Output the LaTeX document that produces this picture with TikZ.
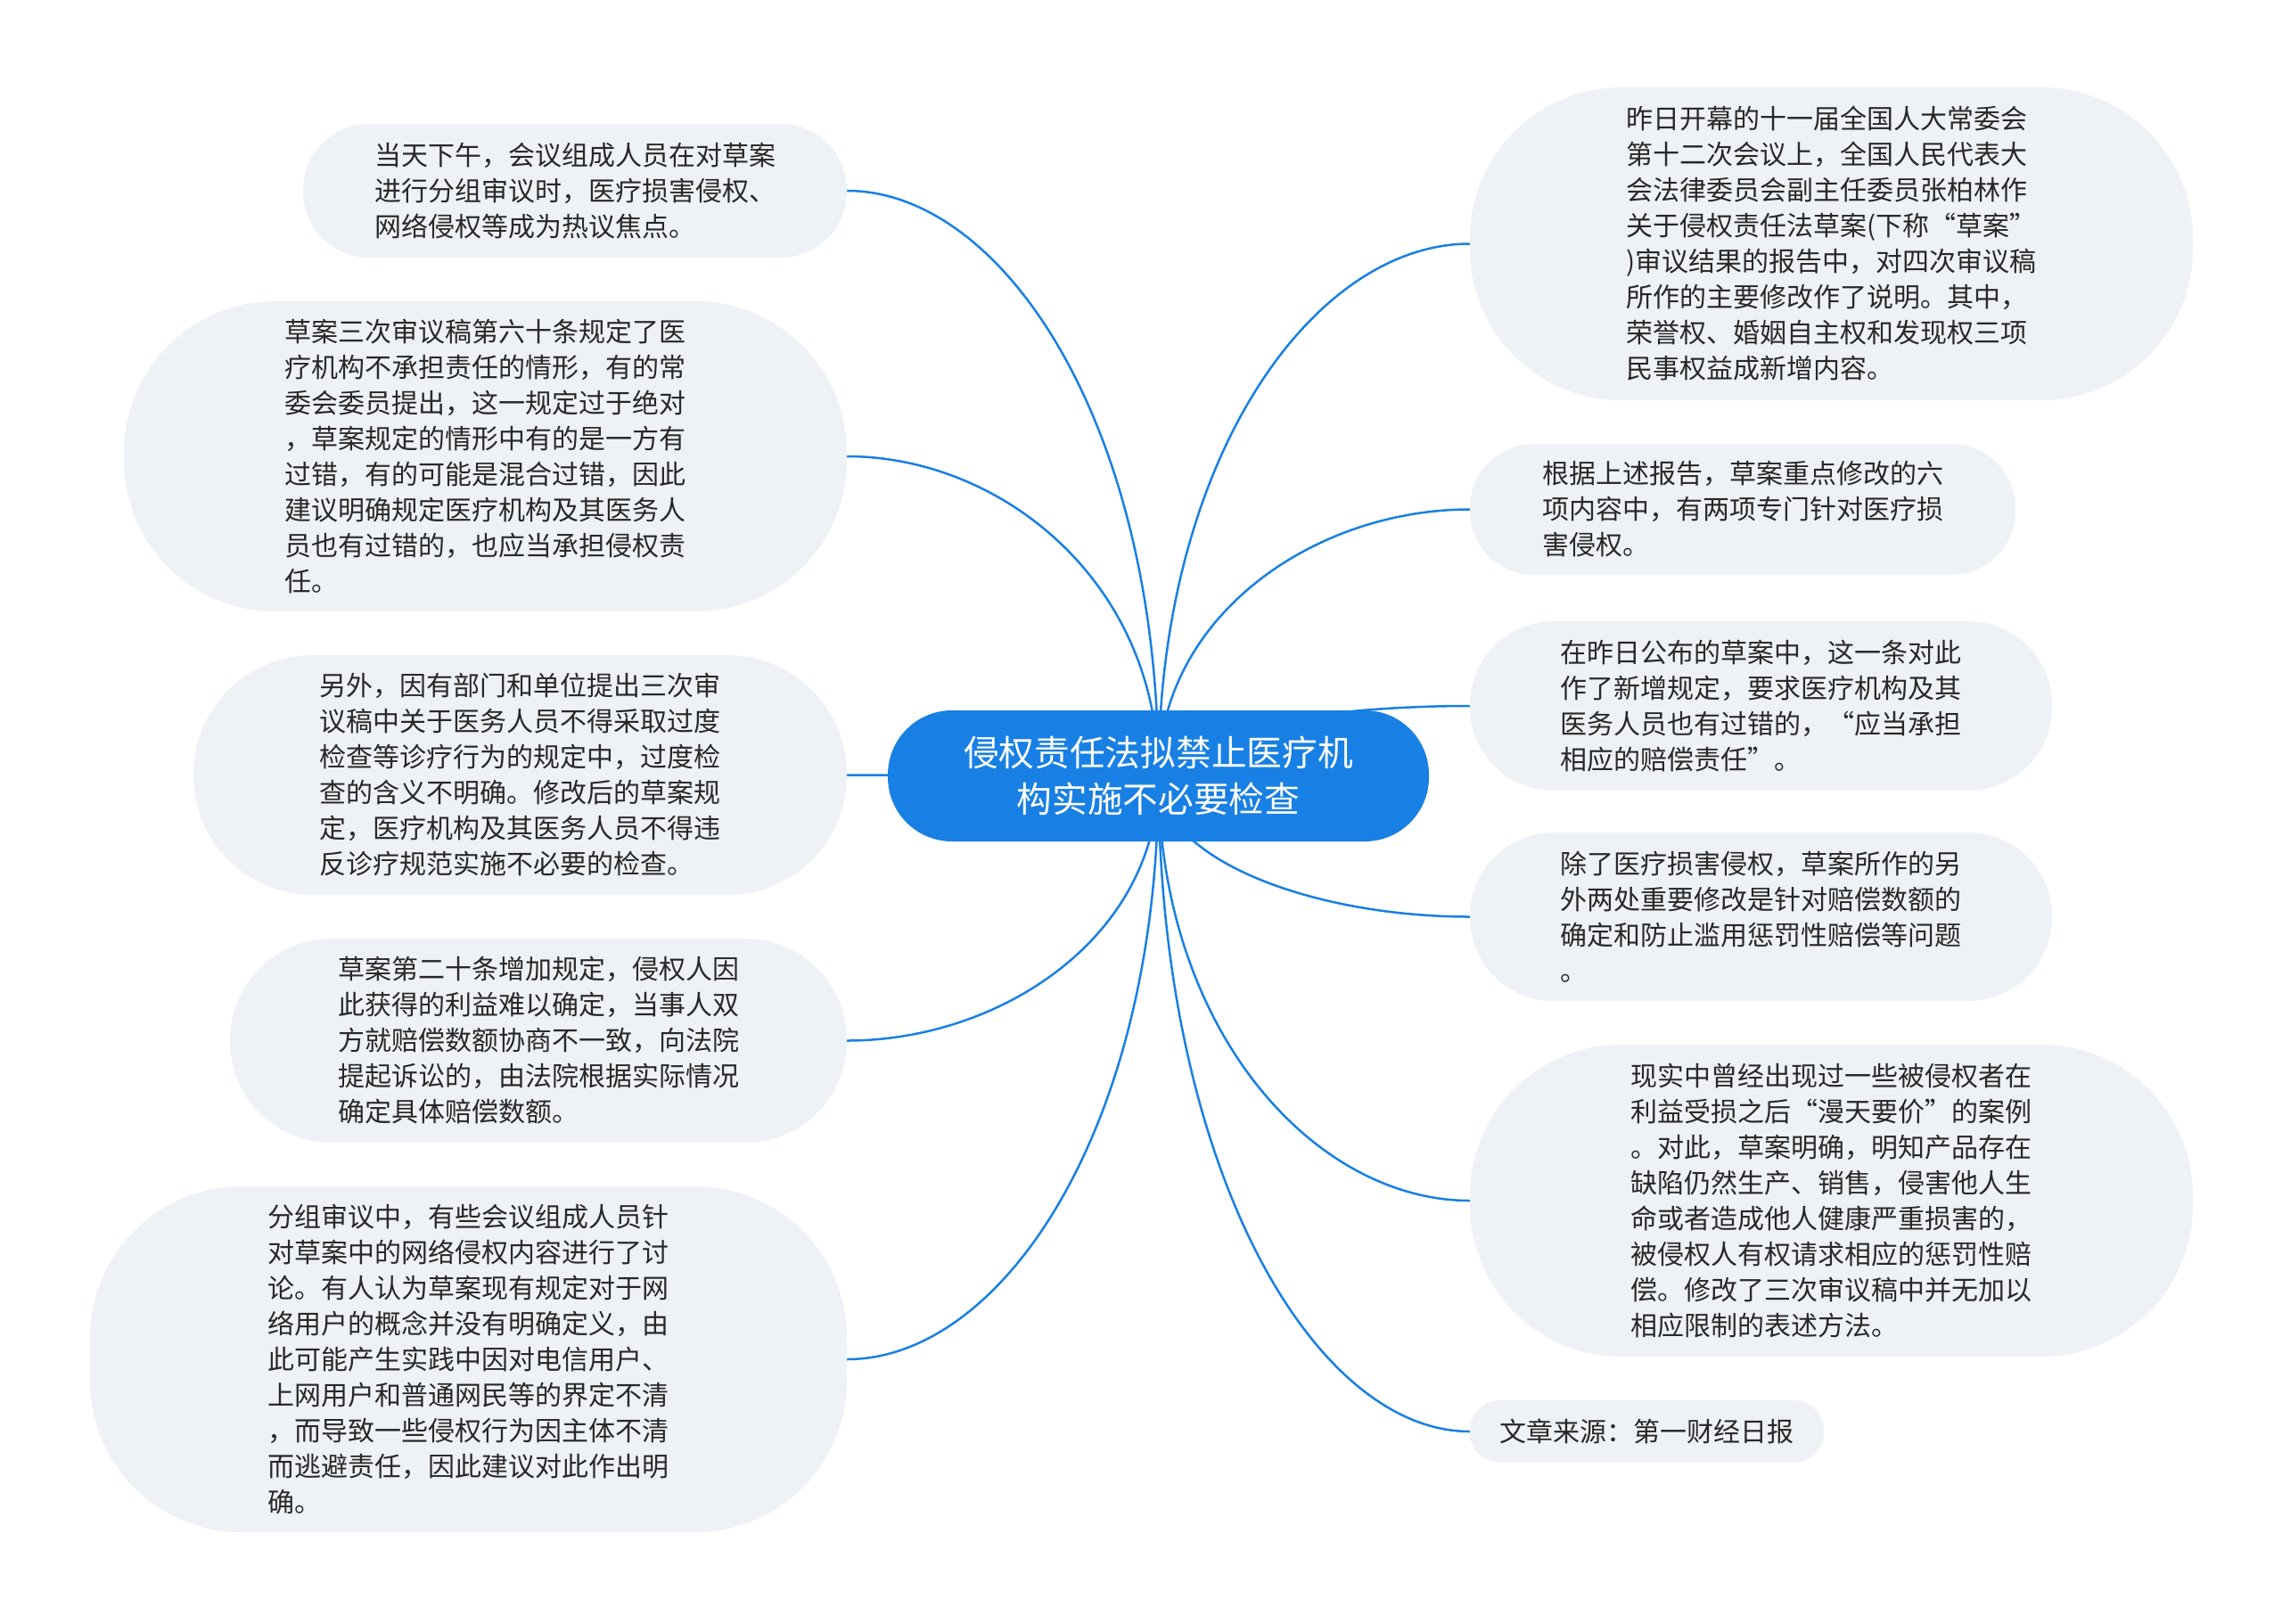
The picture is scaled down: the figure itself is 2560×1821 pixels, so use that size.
\documentclass[tikz,border=0pt]{standalone}
\usepackage{fontspec}
\setmainfont{Noto Sans CJK SC}
\usetikzlibrary{backgrounds}
\definecolor{mainblue}{RGB}{24,128,228}
\definecolor{leafgray}{RGB}{238,241,245}
\definecolor{txtcol}{RGB}{40,40,40}
\begin{document}
\begin{tikzpicture}[x=1pt,y=-1pt,
  leaf/.style={fill=leafgray, rounded corners=#1, inner sep=0pt, align=left,
    text=txtcol, font=\fontsize{30}{40}\selectfont},
  rootnode/.style={fill=mainblue, rounded corners=72pt, inner sep=0pt, align=center,
    text=white, font=\fontsize{39.7}{52}\selectfont},
  link/.style={draw=mainblue, line width=2.5pt}]
\useasboundingbox (0,0) rectangle (2560,1821);

% root
\node[rootnode, minimum width=607pt, minimum height=147pt] (c) at (1299.5,870.5)
  {侵权责任法拟禁止医疗机\\构实施不必要检查};

% left leaves
\node[leaf=74pt, minimum width=610pt, minimum height=150pt] (l1) at (645,214)
  {当天下午，会议组成人员在对草案\\进行分组审议时，医疗损害侵权、\\网络侵权等成为热议焦点。};
\node[leaf=170pt, minimum width=811pt, minimum height=348pt] (l2) at (544.5,512)
  {草案三次审议稿第六十条规定了医\\疗机构不承担责任的情形，有的常\\委会委员提出，这一规定过于绝对\\，草案规定的情形中有的是一方有\\过错，有的可能是混合过错，因此\\建议明确规定医疗机构及其医务人\\员也有过错的，也应当承担侵权责\\任。};
\node[leaf=134pt, minimum width=733pt, minimum height=269pt] (l3) at (583.5,869.5)
  {另外，因有部门和单位提出三次审\\议稿中关于医务人员不得采取过度\\检查等诊疗行为的规定中，过度检\\查的含义不明确。修改后的草案规\\定，医疗机构及其医务人员不得违\\反诊疗规范实施不必要的检查。};
\node[leaf=114pt, minimum width=692pt, minimum height=229pt] (l4) at (604,1167.5)
  {草案第二十条增加规定，侵权人因\\此获得的利益难以确定，当事人双\\方就赔偿数额协商不一致，向法院\\提起诉讼的，由法院根据实际情况\\确定具体赔偿数额。};
\node[leaf=170pt, minimum width=849pt, minimum height=388pt] (l5) at (525.5,1525)
  {分组审议中，有些会议组成人员针\\对草案中的网络侵权内容进行了讨\\论。有人认为草案现有规定对于网\\络用户的概念并没有明确定义，由\\此可能产生实践中因对电信用户、\\上网用户和普通网民等的界定不清\\，而导致一些侵权行为因主体不清\\而逃避责任，因此建议对此作出明\\确。};

% right leaves
\node[leaf=170pt, minimum width=811pt, minimum height=351pt] (r1) at (2054.5,273.5)
  {昨日开幕的十一届全国人大常委会\\第十二次会议上，全国人民代表大\\会法律委员会副主任委员张柏林作\\关于侵权责任法草案(下称“草案”\\)审议结果的报告中，对四次审议稿\\所作的主要修改作了说明。其中，\\荣誉权、婚姻自主权和发现权三项\\民事权益成新增内容。};
\node[leaf=72pt, minimum width=612pt, minimum height=147pt] (r2) at (1955,571.5)
  {根据上述报告，草案重点修改的六\\项内容中，有两项专门针对医疗损\\害侵权。};
\node[leaf=94pt, minimum width=653pt, minimum height=190pt] (r3) at (1975.5,792)
  {在昨日公布的草案中，这一条对此\\作了新增规定，要求医疗机构及其\\医务人员也有过错的，“应当承担\\相应的赔偿责任”。};
\node[leaf=94pt, minimum width=653pt, minimum height=189pt] (r4) at (1975.5,1028.5)
  {除了医疗损害侵权，草案所作的另\\外两处重要修改是针对赔偿数额的\\确定和防止滥用惩罚性赔偿等问题\\。};
\node[leaf=170pt, minimum width=811pt, minimum height=350pt] (r5) at (2054.5,1347)
  {现实中曾经出现过一些被侵权者在\\利益受损之后“漫天要价”的案例\\。对此，草案明确，明知产品存在\\缺陷仍然生产、销售，侵害他人生\\命或者造成他人健康严重损害的，\\被侵权人有权请求相应的惩罚性赔\\偿。修改了三次审议稿中并无加以\\相应限制的表述方法。};
\node[leaf=34pt, minimum width=397pt, minimum height=70pt] (r6) at (1847.5,1606)
  {文章来源：第一财经日报};

\begin{scope}[on background layer]
\fill[white] (0,0) rectangle (2560,1821);
\draw[link] (c.center) .. controls (1300,476) and (1125,214) .. (l1.east);
\draw[link] (c.center) .. controls (1300,655) and (1125,512) .. (l2.east);
\draw[link] (c.center) -- (l3.east);
\draw[link] (c.center) .. controls (1300,1049) and (1125,1167.5) .. (l4.east);
\draw[link] (c.center) .. controls (1300,1264) and (1125,1525) .. (l5.east);
\draw[link] (c.center) .. controls (1300,512) and (1474.5,273.5) .. (r1.west);
\draw[link] (c.center) .. controls (1300,691) and (1474.5,571.5) .. (r2.west);
\draw[link] (c.center) .. controls (1300,823) and (1474.5,792) .. (r3.west);
\draw[link] (c.center) .. controls (1300,965) and (1474.5,1028.5) .. (r4.west);
\draw[link] (c.center) .. controls (1300,1156) and (1474.5,1347) .. (r5.west);
\draw[link] (c.center) .. controls (1300,1312) and (1474.5,1606) .. (r6.west);
\end{scope}
\end{tikzpicture}
\end{document}
